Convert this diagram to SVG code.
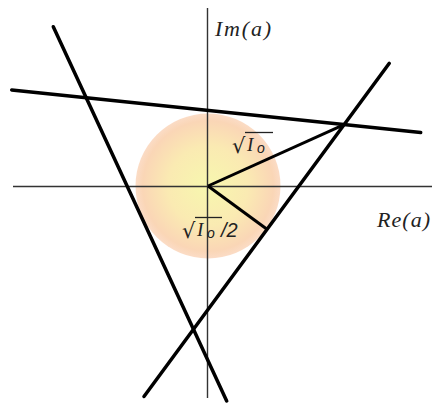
<svg xmlns="http://www.w3.org/2000/svg" width="434" height="406" viewBox="0 0 434 406">
<style>
.axis{stroke:#333;stroke-width:1.4;fill:none}
.thick{stroke:#000;stroke-width:3.5;fill:none;stroke-linecap:round}
.rad{stroke:#000;stroke-width:3;fill:none}
.lbl{font-family:"Liberation Serif","Times New Roman",serif;font-style:italic;font-size:22px;fill:#222}
.sq{font-family:"DejaVu Sans",sans-serif;font-size:21px;fill:#222}
.iv{font-family:"Liberation Serif",serif;font-style:italic;font-size:19px;fill:#222}
.sub{font-family:"Liberation Sans",sans-serif;font-style:italic;font-size:14px;fill:#222}
.frac{font-family:"Liberation Sans",sans-serif;font-style:italic;font-size:20px;fill:#222}
.ol{stroke:#222;stroke-width:1.3}
</style>
<defs>
<radialGradient id="g" cx="0.5" cy="0.5" r="0.5">
<stop offset="0" stop-color="#f7f7ae"/>
<stop offset="0.55" stop-color="#faeab2"/>
<stop offset="0.9" stop-color="#fad6b6"/>
<stop offset="1" stop-color="#fbdcc6"/>
</radialGradient>
</defs>
<g id="disk"><circle cx="208" cy="186" r="72.5" fill="url(#g)"/></g>
<g id="axes">
<line class="axis" x1="13" y1="186.5" x2="432" y2="186.5"/>
<line class="axis" x1="207.5" y1="8" x2="207.5" y2="398"/>
</g>
<g id="connectors">
<line class="thick" x1="53.3" y1="26.7" x2="226.7" y2="401"/>
<line class="thick" x1="144" y1="396.5" x2="389.3" y2="63.3"/>
<line class="thick" x1="11.7" y1="90" x2="420.7" y2="132.5"/>
<line class="rad" x1="208" y1="186" x2="343.5" y2="124.8"/>
<line class="rad" x1="208" y1="186" x2="267" y2="229.3"/>
</g>
<g id="label-im"><text class="lbl" x="215" y="36" textLength="56" lengthAdjust="spacing">Im(a)</text></g>
<g id="label-re"><text class="lbl" x="377" y="227" textLength="53" lengthAdjust="spacing">Re(a)</text></g>
<g id="label-r1">
<text class="sq" x="232" y="153">√</text>
<line class="ol" x1="245" y1="132.5" x2="273" y2="132.5"/>
<text class="iv" x="247" y="151">I</text>
<text class="sub" x="257" y="153">o</text>
</g>
<g id="label-r2">
<text class="sq" x="182" y="238">√</text>
<line class="ol" x1="195" y1="217.5" x2="222" y2="217.5"/>
<text class="iv" x="197" y="236">I</text>
<text class="sub" x="207" y="238">o</text>
<text class="frac" x="221" y="237">/2</text>
</g>
</svg>
